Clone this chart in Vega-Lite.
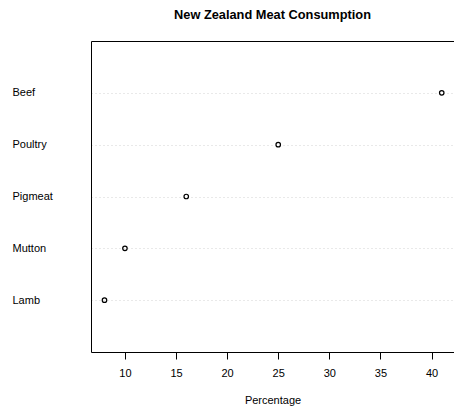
{
  "$schema": "https://vega.github.io/schema/vega-lite/v6.json",
  "width": 363,
  "height": 311,
  "autosize": {"type": "none"},
  "padding": {"left": 91, "top": 41, "right": 0, "bottom": 57},
  "background": "white",
  "config": {
    "view": {"stroke": null},
    "font": "Liberation Sans",
    "axis": {"domainColor": "black", "domainWidth": 1, "tickColor": "black", "labelColor": "black", "titleColor": "black", "labelFont": "Liberation Sans", "titleFont": "Liberation Sans", "titleFontWeight": "normal"}
  },
  "title": {
    "text": "New Zealand Meat Consumption",
    "font": "Liberation Sans",
    "fontSize": 12.8,
    "fontWeight": "bold",
    "color": "black",
    "anchor": "middle",
    "frame": "group",
    "baseline": "alphabetic",
    "offset": 9
  },
  "data": {
    "values": [
      {"meat": "Beef", "pct": 41},
      {"meat": "Poultry", "pct": 25},
      {"meat": "Pigmeat", "pct": 16},
      {"meat": "Mutton", "pct": 10},
      {"meat": "Lamb", "pct": 8}
    ]
  },
  "resolve": {"axis": {"x": "independent"}},
  "layer": [
    {
      "mark": {"type": "point", "shape": "circle", "filled": false, "stroke": "black", "strokeWidth": 1.2, "size": 20, "opacity": 1},
      "encoding": {
        "x": {
          "field": "pct", "type": "quantitative",
          "scale": {"domain": [6.68, 42.2], "nice": false, "zero": false},
          "axis": {
            "orient": "bottom", "title": "Percentage", "values": [10, 15, 20, 25, 30, 35, 40],
            "grid": false, "tickSize": 7, "labelPadding": 8, "labelFontSize": 11,
            "titleFontSize": 11, "titleBaseline": "alphabetic", "titleY": 51, "labelFlush": false
          }
        },
        "y": {
          "field": "meat", "type": "nominal",
          "sort": ["Beef", "Poultry", "Pigmeat", "Mutton", "Lamb"],
          "scale": {"type": "point", "padding": 1},
          "axis": {
            "title": null, "ticks": false, "tickSize": 0, "labelAlign": "left", "labelPadding": 79,
            "labelFontSize": 11, "grid": true, "gridColor": "#d3d3d3", "gridDash": [1, 3], "gridWidth": 1
          }
        }
      }
    },
    {
      "mark": {"type": "point", "opacity": 0},
      "encoding": {
        "x": {
          "field": "pct", "type": "quantitative",
          "axis": {"orient": "top", "title": null, "labels": false, "ticks": false, "grid": false, "domain": true}
        },
        "y": {"field": "meat", "type": "nominal", "sort": ["Beef", "Poultry", "Pigmeat", "Mutton", "Lamb"]}
      }
    }
  ]
}
